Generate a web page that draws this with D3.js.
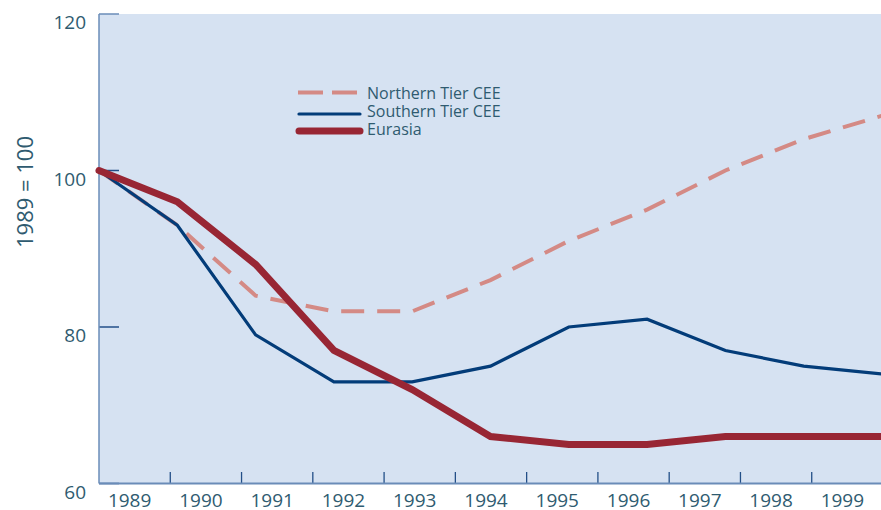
<!DOCTYPE html>
<html>
<head>
<meta charset="utf-8">
<script src="https://cdn.jsdelivr.net/npm/d3@7"></script>
<style>
  html, body { margin: 0; padding: 0; background: #ffffff; }
  svg { display: block; }
  text { font-family: "Open Sans", "Noto Sans", sans-serif; }
</style>
</head>
<body>
<svg id="chart" width="881" height="510"></svg>
<script>
const years = ["1989","1990","1991","1992","1993","1994","1995","1996","1997","1998","1999"];
const northernTier = [100, 93, 84, 82, 82, 86, 91, 95, 100, 104, 107];
const southernTier = [100, 93, 79, 73, 73, 75, 80, 81, 77, 75, 74];
const eurasia      = [100, 96, 88, 77, 72, 66, 65, 65, 66, 66, 66];
const yTicks = [60, 80, 100, 120];
const seriesNames = ["Northern Tier CEE", "Southern Tier CEE", "Eurasia"];
const yAxisTitle = "1989 = 100";

(function () {
const W = 881, H = 510;
const mLeft = 99, mRight = 882, mTop = 14, mBottom = 483.5;

const svg = d3.select("#chart");

const y = d3.scaleLinear().domain([60, 120]).range([mBottom, mTop]);
const xPt = d3.scalePoint().domain(years).range([mLeft, mRight]);
const xBand = d3.scaleBand().domain(years).range([mLeft, 883]);

const textColor = "#2f5b70";
const axisColor = "#6a8cb8";
const tickColor = "#234f88";

svg.append("rect")
  .attr("x", mLeft).attr("y", mTop)
  .attr("width", W - mLeft).attr("height", mBottom - mTop)
  .attr("fill", "#d6e2f2");

svg.selectAll(".ytick").data(yTicks).enter().append("line")
  .attr("x1", mLeft).attr("x2", mLeft + 20)
  .attr("y1", d => y(d)).attr("y2", d => y(d))
  .attr("stroke", d => d === 120 ? axisColor : tickColor)
  .attr("stroke-width", 1.5);

svg.selectAll(".ylab").data(yTicks).enter().append("text")
  .attr("x", 86).attr("y", d => y(d) + 15)
  .attr("text-anchor", "end")
  .attr("font-size", 19)
  .attr("fill", textColor)
  .text(d => d);

svg.selectAll(".xtick").data(years.slice(1)).enter().append("line")
  .attr("x1", d => xBand(d)).attr("x2", d => xBand(d))
  .attr("y1", mBottom).attr("y2", mBottom - 11.5)
  .attr("stroke", tickColor)
  .attr("stroke-width", 1.3);

svg.selectAll(".xlab").data(years).enter().append("text")
  .attr("x", d => xBand(d) + xBand.bandwidth() / 2 - 5)
  .attr("y", 507)
  .attr("text-anchor", "middle")
  .attr("font-size", 19)
  .attr("fill", textColor)
  .text(d => d);

svg.append("line")
  .attr("x1", mLeft).attr("x2", mLeft).attr("y1", mTop).attr("y2", mBottom)
  .attr("stroke", axisColor).attr("stroke-width", 1.5);
svg.append("line")
  .attr("x1", mLeft).attr("x2", W).attr("y1", mBottom).attr("y2", mBottom)
  .attr("stroke", axisColor).attr("stroke-width", 2);

svg.append("text")
  .attr("transform", `translate(33, 192) rotate(-90)`)
  .attr("text-anchor", "middle")
  .attr("font-size", 22)
  .attr("fill", textColor)
  .text(yAxisTitle);

const line = d3.line().x((d, i) => xPt(years[i])).y(d => y(d));

const series = [
  { name: seriesNames[0], values: northernTier, color: "#d48a85", width: 4, dash: "23 13" },
  { name: seriesNames[1], values: southernTier, color: "#033c79", width: 3.2, dash: null },
  { name: seriesNames[2], values: eurasia, color: "#982634", width: 7, dash: null }
];

svg.append("clipPath").attr("id", "plotclip")
  .append("rect").attr("x", mLeft - 6).attr("y", mTop).attr("width", W - mLeft + 6).attr("height", mBottom - mTop);

const g = svg.append("g").attr("clip-path", "url(#plotclip)");
series.forEach(s => {
  g.append("path")
    .attr("d", line(s.values))
    .attr("fill", "none")
    .attr("stroke", s.color)
    .attr("stroke-width", s.width)
    .attr("stroke-linejoin", "miter")
    .attr("stroke-linecap", s.dash ? "butt" : "round")
    .attr("stroke-dasharray", s.dash);
});

const legendY = [92.5, 114, 131];
const legendTextY = [99, 117, 135];
series.forEach((s, i) => {
  svg.append("line")
    .attr("x1", s.dash ? 298 : 299).attr("x2", 360)
    .attr("y1", legendY[i]).attr("y2", legendY[i])
    .attr("stroke", s.color)
    .attr("stroke-width", s.width)
    .attr("stroke-linecap", s.dash ? "butt" : "round")
    .attr("stroke-dasharray", s.dash ? "25 9" : null);
  svg.append("text")
    .attr("x", 367).attr("y", legendTextY[i])
    .attr("font-size", 16)
    .attr("fill", textColor)
    .text(s.name);
});
})();
</script>
</body>
</html>
